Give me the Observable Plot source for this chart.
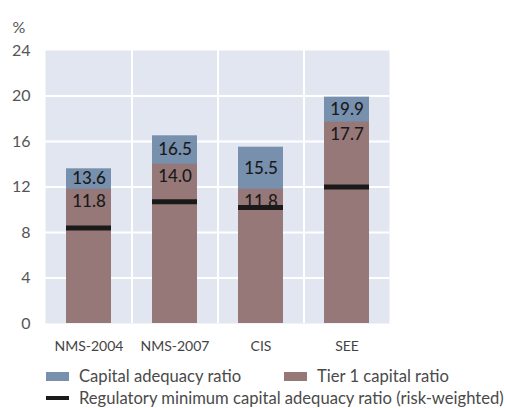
<!DOCTYPE html>
<html>
<head>
<meta charset="utf-8">
<script src="https://cdn.jsdelivr.net/npm/d3@7"></script>
<script src="https://cdn.jsdelivr.net/npm/@observablehq/plot@0.6"></script>
<style>
  body { margin: 0; background: #fff; font-family: Lato, "Open Sans", sans-serif; }
  #chart { position: relative; width: 505px; }
  .legend { position: relative; font-size: 16.6px; color: #4a4a4a; height: 48px; }
  .item { position: absolute; display: flex; align-items: center; white-space: nowrap; }
  .sw { width: 23px; height: 9px; margin-right: 10px; }
  .ln { width: 23px; height: 4px; margin-right: 10px; background: #1a1a1a; }
</style>
</head>
<body>
<div id="chart"></div>
<script>
const categories = ["NMS-2004", "NMS-2007", "CIS", "SEE"];
const capitalAdequacy = [13.6, 16.5, 15.5, 19.9];
const tier1 = [11.8, 14.0, 11.8, 17.7];
const regulatoryMin = [8.4, 10.7, 10.2, 12.0];
const yTicks = [0, 4, 8, 12, 16, 20, 24];

const data = categories.map((c, i) => ({
  cat: c, car: capitalAdequacy[i], t1: tier1[i], min: regulatoryMin[i]
}));

const blue = "#7790ad", mauve = "#967879", black = "#1a1a1a";

const plot = Plot.plot({
  width: 505,
  height: 360,
  marginLeft: 45,
  marginRight: 116,
  marginTop: 50,
  marginBottom: 37,
  style: { fontFamily: "Lato, 'Open Sans', sans-serif", fontSize: "15px", color: "#555", background: "transparent" },
  x: { domain: categories, paddingInner: 0.48, paddingOuter: 0.24, label: null },
  y: { domain: [0, 24], label: null },
  marks: [
    Plot.frame({ fill: "#e1e6f0", stroke: null }),
    Plot.ruleY(yTicks.slice(1, -1), { stroke: "white", strokeWidth: 2 }),
    Plot.ruleX(categories.slice(1), { x: d => d, dx: -43, stroke: "white", strokeWidth: 2 }),
    Plot.barY(data, { x: "cat", y: "car", fill: blue }),
    Plot.barY(data, { x: "cat", y: "t1", fill: mauve }),
    Plot.tickY(data, { x: "cat", y: "min", stroke: black, strokeWidth: 5 }),
    Plot.text(data, { x: "cat", y: d => (d.car + d.t1) / 2, text: d => d.car.toFixed(1), fill: black, fontSize: 17, fontWeight: 500 }),
    Plot.text(data, { x: "cat", y: "t1", dy: 12, text: d => d.t1.toFixed(1), fill: black, fontSize: 17, fontWeight: 500 }),
    Plot.axisY(yTicks, { tickSize: 0, tickPadding: 15, fontSize: 16, fill: "#555", label: null }),
    Plot.axisX({ tickSize: 0, tickPadding: 18, fontSize: 14, fill: "#444", label: null }),
    Plot.text(["%"], { frameAnchor: "top-left", dx: -33, dy: -29, fontSize: 16, fill: "#555" })
  ]
});
document.getElementById("chart").appendChild(plot);

const legend = document.createElement("div");
legend.className = "legend";
legend.innerHTML = `
  <div class="item" style="left:46px; top:6px"><div class="sw" style="background:${blue}"></div>Capital adequacy ratio</div>
  <div class="item" style="left:284px; top:6px"><div class="sw" style="background:${mauve}"></div>Tier 1 capital ratio</div>
  <div class="item" style="left:46px; top:28px"><div class="ln"></div>Regulatory minimum capital adequacy ratio (risk-weighted)</div>
`;
document.getElementById("chart").appendChild(legend);
</script>
</body>
</html>
